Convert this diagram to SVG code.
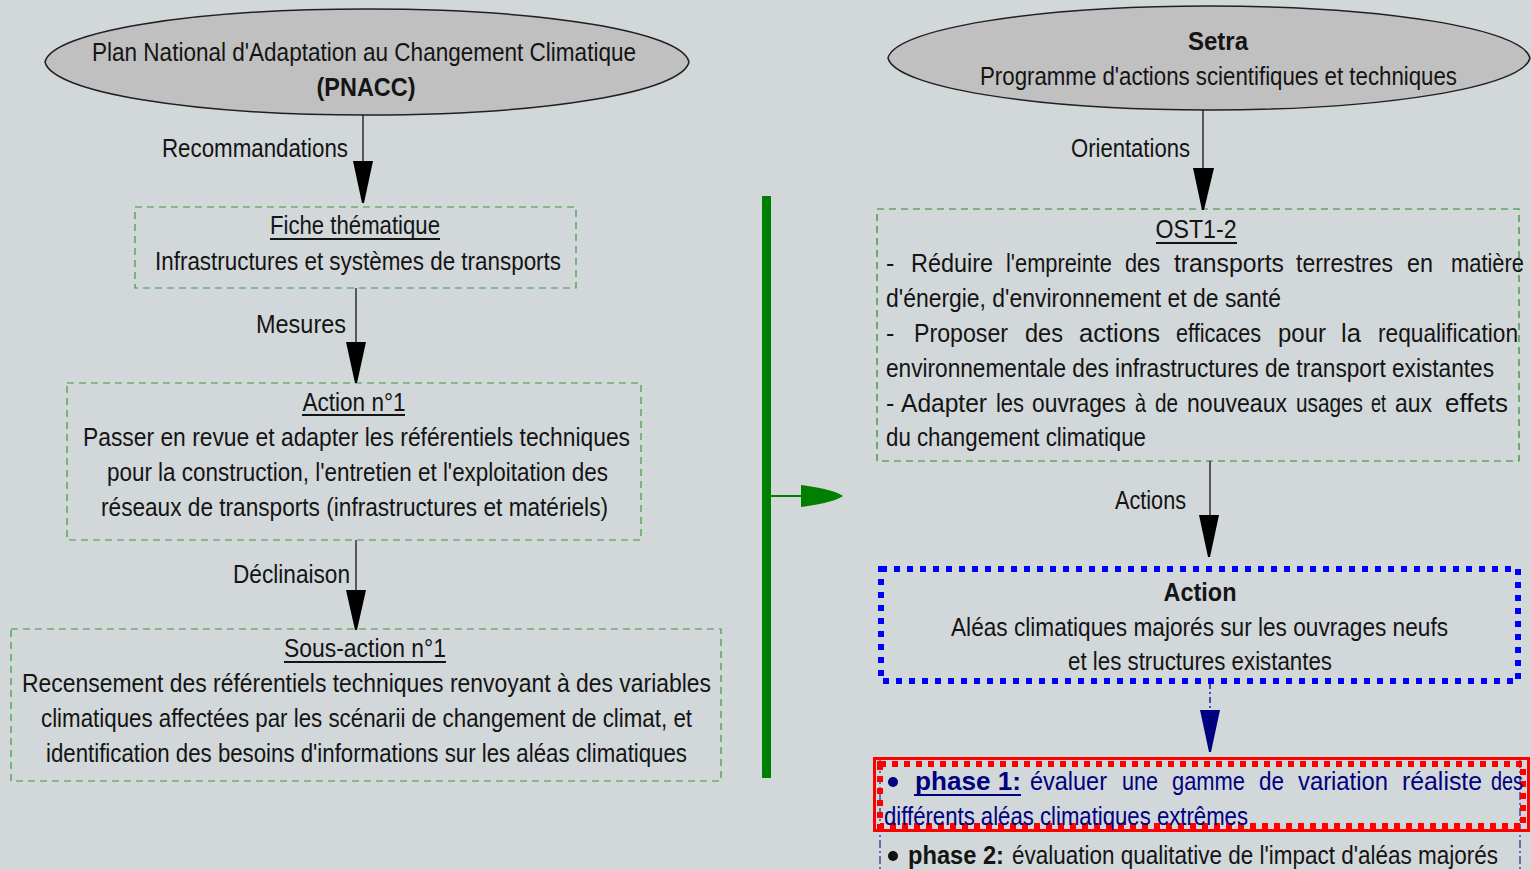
<svg xmlns="http://www.w3.org/2000/svg" width="1531" height="870" viewBox="0 0 1531 870">
<style>
.t{font-family:"Liberation Sans",Arial,sans-serif;font-size:25px;fill:#141414}
.b{font-weight:bold}
.c{text-anchor:middle}
.nv{fill:#000080}
.ell{fill:#c0c0c0;stroke:#202020;stroke-width:1.5}
.gbox{fill:none;stroke:#3c9a3c;stroke-width:1.2;stroke-dasharray:7 5}
.ul{stroke:#141414;stroke-width:2}
.ln{stroke:#141414;stroke-width:1.3;fill:none}
.ah{fill:#000}
</style>
<rect x="0" y="0" width="1531" height="870" fill="#d2d7da"/>

<g id="pnacc">
<path class="ell" d="M45,62 C52,32 190,9 367,9 C545,9 682,32 689,62 C682,92 545,115 367,115 C190,115 52,92 45,62 Z"/>
<text class="t c" x="364" y="61" textLength="544" lengthAdjust="spacingAndGlyphs">Plan National d'Adaptation au Changement Climatique</text>
<text class="t b c" x="366" y="96" textLength="99" lengthAdjust="spacingAndGlyphs">(PNACC)</text>
</g>

<g id="fiche">
<rect class="gbox" x="135" y="207" width="441" height="81"/>
<text class="t c" x="355" y="234" textLength="170" lengthAdjust="spacingAndGlyphs">Fiche thématique</text>
<line class="ul" x1="270" y1="239" x2="440" y2="239"/>
<text class="t" x="155" y="270" textLength="406" lengthAdjust="spacingAndGlyphs">Infrastructures et systèmes de transports</text>
</g>

<g id="action1">
<rect class="gbox" x="67" y="383" width="574" height="157"/>
<text class="t c" x="354" y="411" textLength="103" lengthAdjust="spacingAndGlyphs">Action n°1</text>
<line class="ul" x1="302" y1="415" x2="405" y2="415"/>
<text class="t" x="83" y="446" textLength="547" lengthAdjust="spacingAndGlyphs">Passer en revue et adapter les référentiels techniques</text>
<text class="t" x="107" y="481" textLength="501" lengthAdjust="spacingAndGlyphs">pour la construction, l'entretien et l'exploitation des</text>
<text class="t" x="101" y="516" textLength="507" lengthAdjust="spacingAndGlyphs">réseaux de transports (infrastructures et matériels)</text>
</g>

<g id="sousaction1">
<rect class="gbox" x="11" y="629" width="710" height="152"/>
<text class="t c" x="365" y="657" textLength="162" lengthAdjust="spacingAndGlyphs">Sous-action n°1</text>
<line class="ul" x1="284" y1="662" x2="446" y2="662"/>
<text class="t" x="22" y="692" textLength="689" lengthAdjust="spacingAndGlyphs">Recensement des référentiels techniques renvoyant à des variables</text>
<text class="t" x="41" y="727" textLength="651" lengthAdjust="spacingAndGlyphs">climatiques affectées par les scénarii de changement de climat, et</text>
<text class="t" x="46" y="762" textLength="641" lengthAdjust="spacingAndGlyphs">identification des besoins d'informations sur les aléas climatiques</text>
</g>

<g id="setra">
<path class="ell" d="M888,58 C895,29 1035,6 1209,6 C1385,6 1523,29 1530,58 C1523,87 1385,110 1209,110 C1035,110 895,87 888,58 Z"/>
<text class="t b c" x="1218" y="50" textLength="60" lengthAdjust="spacingAndGlyphs">Setra</text>
<text class="t" x="980" y="85" textLength="477" lengthAdjust="spacingAndGlyphs">Programme d'actions scientifiques et techniques</text>
</g>

<g id="ost12">
<rect class="gbox" x="877" y="209" width="642" height="252" style="stroke:#2e8b2e"/>
<text class="t c" x="1196" y="238" textLength="81" lengthAdjust="spacingAndGlyphs">OST1-2</text>
<line class="ul" x1="1156" y1="243" x2="1237" y2="243"/>
<text class="t" x="886" y="272">-</text>
<text class="t" x="911" y="272" textLength="82" lengthAdjust="spacingAndGlyphs">Réduire</text>
<text class="t" x="1006" y="272" textLength="106" lengthAdjust="spacingAndGlyphs">l'empreinte</text>
<text class="t" x="1125" y="272" textLength="35" lengthAdjust="spacingAndGlyphs">des</text>
<text class="t" x="1174" y="272" textLength="110" lengthAdjust="spacingAndGlyphs">transports</text>
<text class="t" x="1296" y="272" textLength="97" lengthAdjust="spacingAndGlyphs">terrestres</text>
<text class="t" x="1407" y="272" textLength="26" lengthAdjust="spacingAndGlyphs">en</text>
<text class="t" x="1451" y="272" textLength="73" lengthAdjust="spacingAndGlyphs">matière</text>
<text class="t" x="886" y="307" textLength="395" lengthAdjust="spacingAndGlyphs">d'énergie, d'environnement et de santé</text>
<text class="t" x="886" y="342">-</text>
<text class="t" x="914" y="342" textLength="94" lengthAdjust="spacingAndGlyphs">Proposer</text>
<text class="t" x="1025" y="342" textLength="38" lengthAdjust="spacingAndGlyphs">des</text>
<text class="t" x="1079" y="342" textLength="81" lengthAdjust="spacingAndGlyphs">actions</text>
<text class="t" x="1176" y="342" textLength="85" lengthAdjust="spacingAndGlyphs">efficaces</text>
<text class="t" x="1278" y="342" textLength="48" lengthAdjust="spacingAndGlyphs">pour</text>
<text class="t" x="1341" y="342" textLength="20" lengthAdjust="spacingAndGlyphs">la</text>
<text class="t" x="1378" y="342" textLength="140" lengthAdjust="spacingAndGlyphs">requalification</text>
<text class="t" x="886" y="377" textLength="608" lengthAdjust="spacingAndGlyphs">environnementale des infrastructures de transport existantes</text>
<text class="t" x="886" y="412">-</text>
<text class="t" x="901" y="412" textLength="86" lengthAdjust="spacingAndGlyphs">Adapter</text>
<text class="t" x="996" y="412" textLength="28" lengthAdjust="spacingAndGlyphs">les</text>
<text class="t" x="1032" y="412" textLength="94" lengthAdjust="spacingAndGlyphs">ouvrages</text>
<text class="t" x="1135" y="412" textLength="11" lengthAdjust="spacingAndGlyphs">à</text>
<text class="t" x="1155" y="412" textLength="23" lengthAdjust="spacingAndGlyphs">de</text>
<text class="t" x="1187" y="412" textLength="100" lengthAdjust="spacingAndGlyphs">nouveaux</text>
<text class="t" x="1296" y="412" textLength="67" lengthAdjust="spacingAndGlyphs">usages</text>
<text class="t" x="1371" y="412" textLength="15" lengthAdjust="spacingAndGlyphs">et</text>
<text class="t" x="1395" y="412" textLength="37" lengthAdjust="spacingAndGlyphs">aux</text>
<text class="t" x="1445" y="412" textLength="63" lengthAdjust="spacingAndGlyphs">effets</text>
<text class="t" x="886" y="446" textLength="260" lengthAdjust="spacingAndGlyphs">du changement climatique</text>
</g>

<g id="action">
<rect x="881" y="569" width="637" height="112" fill="none" stroke="#0000ff" stroke-width="6" stroke-dasharray="6 7"/>
<text class="t b c" x="1200" y="601" textLength="73" lengthAdjust="spacingAndGlyphs">Action</text>
<text class="t" x="951" y="636" textLength="497" lengthAdjust="spacingAndGlyphs">Aléas climatiques majorés sur les ouvrages neufs</text>
<text class="t" x="1068" y="670" textLength="264" lengthAdjust="spacingAndGlyphs">et les structures existantes</text>
</g>

<g id="phases">
<path d="M880,760 V870 M1520,760 V870" stroke="#000080" stroke-width="1" stroke-dasharray="8 3 2 3" fill="none"/>
<g id="phase1">
<rect x="874.5" y="758.5" width="654" height="72" fill="none" stroke="#ff0000" stroke-width="3"/>
<rect x="880" y="764" width="643" height="62" fill="none" stroke="#ff0000" stroke-width="6" stroke-dasharray="6 6"/>
<circle cx="893" cy="782" r="5" fill="#000080"/>
<text class="t b nv" x="915" y="790" textLength="106" lengthAdjust="spacingAndGlyphs">phase 1:</text>
<line x1="914" y1="795" x2="1021" y2="795" stroke="#000080" stroke-width="2"/>
<text class="t nv" x="1030" y="790" textLength="77" lengthAdjust="spacingAndGlyphs">évaluer</text>
<text class="t nv" x="1122" y="790" textLength="36" lengthAdjust="spacingAndGlyphs">une</text>
<text class="t nv" x="1172" y="790" textLength="73" lengthAdjust="spacingAndGlyphs">gamme</text>
<text class="t nv" x="1259" y="790" textLength="25" lengthAdjust="spacingAndGlyphs">de</text>
<text class="t nv" x="1298" y="790" textLength="90" lengthAdjust="spacingAndGlyphs">variation</text>
<text class="t nv" x="1402" y="790" textLength="80" lengthAdjust="spacingAndGlyphs">réaliste</text>
<text class="t nv" x="1491" y="790" textLength="32" lengthAdjust="spacingAndGlyphs">des</text>
<text class="t nv" x="884" y="825" textLength="364" lengthAdjust="spacingAndGlyphs">différents aléas climatiques extrêmes</text>
</g>
<g id="phase2">
<circle cx="893" cy="856" r="5" fill="#111"/>
<text class="t b" x="908" y="864" textLength="96" lengthAdjust="spacingAndGlyphs">phase 2:</text>
<text class="t" x="1012" y="864" textLength="486" lengthAdjust="spacingAndGlyphs">évaluation qualitative de l'impact d'aléas majorés</text>
</g>
</g>

<g id="connectors">
<line class="ln" x1="363" y1="115" x2="363" y2="165"/>
<path class="ah" d="M353,161 L373,161 L364,203 L362,203 Z"/>
<text class="t" x="162" y="157" textLength="186" lengthAdjust="spacingAndGlyphs">Recommandations</text>

<line class="ln" x1="356" y1="288" x2="356" y2="345"/>
<path class="ah" d="M346,342 L366,342 L357,383 L355,383 Z"/>
<text class="t" x="256" y="333" textLength="90" lengthAdjust="spacingAndGlyphs">Mesures</text>

<line class="ln" x1="356" y1="540" x2="356" y2="593"/>
<path class="ah" d="M346,590 L366,590 L357,630 L355,630 Z"/>
<text class="t" x="233" y="583" textLength="117" lengthAdjust="spacingAndGlyphs">Déclinaison</text>

<line class="ln" x1="1203" y1="110" x2="1203" y2="172"/>
<path class="ah" d="M1193,168 L1214,168 L1204,210 L1202,210 Z"/>
<text class="t" x="1071" y="157" textLength="119" lengthAdjust="spacingAndGlyphs">Orientations</text>

<line class="ln" x1="1210" y1="461" x2="1210" y2="519"/>
<path class="ah" d="M1199,515 L1219,515 L1210,557 L1208,557 Z"/>
<text class="t" x="1115" y="509" textLength="71" lengthAdjust="spacingAndGlyphs">Actions</text>

<line x1="1210" y1="683" x2="1210" y2="712" stroke="#000080" stroke-width="1.3" stroke-dasharray="6 3 2 3"/>
<path d="M1200,710 L1220,710 L1211,752 L1209,752 Z" fill="#000080"/>

<rect x="762" y="196" width="9" height="582" fill="#008000"/>
<line x1="771" y1="496" x2="803" y2="496" stroke="#008000" stroke-width="2"/>
<path d="M801,485 C815,487 835,490 843,496 C835,502 815,505 801,507 Z" fill="#008000"/>
</g>
</svg>
